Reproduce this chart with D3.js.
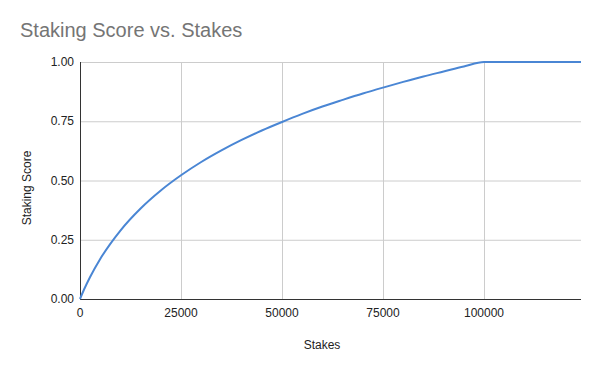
<!DOCTYPE html>
<html><head><meta charset="utf-8">
<script src="https://cdn.jsdelivr.net/npm/d3@7"></script>
<style>body{margin:0;background:#fff}svg{display:block;font-family:"Liberation Sans",Arial,sans-serif}</style>
</head><body><svg id="c" width="600" height="371"></svg>
<script>
const stakes = [0,1000,2500,5000,10000,15000,20000,25000,30000,35000,40000,45000,50000,55000,60000,65000,70000,75000,80000,85000,90000,95000,100000,105000,110000,115000,120000,124000];
const scores = [0,0.040,0.093,0.169,0.289,0.382,0.458,0.522,0.578,0.627,0.671,0.711,0.747,0.781,0.812,0.840,0.867,0.892,0.916,0.939,0.960,0.981,1.0,1.0,1.0,1.0,1.0,1.0];
const xTicks = [0,25000,50000,75000,100000];
const yTicks = [0,0.25,0.5,0.75,1.0];

const svg = d3.select("#c");
const L=80,R=581,T=62,B=299;
const x = d3.scaleLinear().domain([0,124000]).range([L,R]);
const y = d3.scaleLinear().domain([0,1]).range([B,T]);

svg.append("rect").attr("width",600).attr("height",371).attr("fill","#fff");

// gridlines
svg.append("g").selectAll("line").data(yTicks.slice(1)).join("line")
  .attr("x1",L).attr("x2",R).attr("y1",d=>y(d)+0.5).attr("y2",d=>y(d)+0.5)
  .attr("stroke","#cccccc").attr("stroke-width",1);
svg.append("g").selectAll("line").data(xTicks.slice(1)).join("line")
  .attr("x1",d=>Math.round(x(d))+0.5).attr("x2",d=>Math.round(x(d))+0.5).attr("y1",T).attr("y2",B)
  .attr("stroke","#cccccc").attr("stroke-width",1);

// axes lines
svg.append("line").attr("x1",L+0.5).attr("x2",L+0.5).attr("y1",T).attr("y2",B+0.5).attr("stroke","#333").attr("stroke-width",1);
svg.append("line").attr("x1",L).attr("x2",R).attr("y1",B+0.5).attr("y2",B+0.5).attr("stroke","#333").attr("stroke-width",1);

// tick labels
svg.append("g").selectAll("text").data(yTicks).join("text")
  .attr("x",74).attr("y",d=>y(d)+4).attr("text-anchor","end")
  .attr("font-size",12).attr("fill","#222").text(d=>d3.format(".2f")(d));
svg.append("g").selectAll("text").data(xTicks).join("text")
  .attr("x",d=>x(d)).attr("y",317).attr("text-anchor","middle")
  .attr("font-size",12).attr("fill","#222").text(d=>d);

// line
const line = d3.line().x((d,i)=>x(stakes[i])).y(d=>y(d)).curve(d3.curveMonotoneX);
svg.append("path").datum(scores).attr("d",line).attr("fill","none")
  .attr("stroke","#4a86d4").attr("stroke-width",2);

// titles
svg.append("text").attr("x",20).attr("y",37).attr("font-size",20).attr("fill","#757575").text("Staking Score vs. Stakes");
svg.append("text").attr("x",322).attr("y",349).attr("text-anchor","middle").attr("font-size",12).attr("fill","#222").text("Stakes");
svg.append("text").attr("transform","translate(31,188) rotate(-90)").attr("text-anchor","middle").attr("font-size",12).attr("fill","#222").text("Staking Score");
</script></body></html>
